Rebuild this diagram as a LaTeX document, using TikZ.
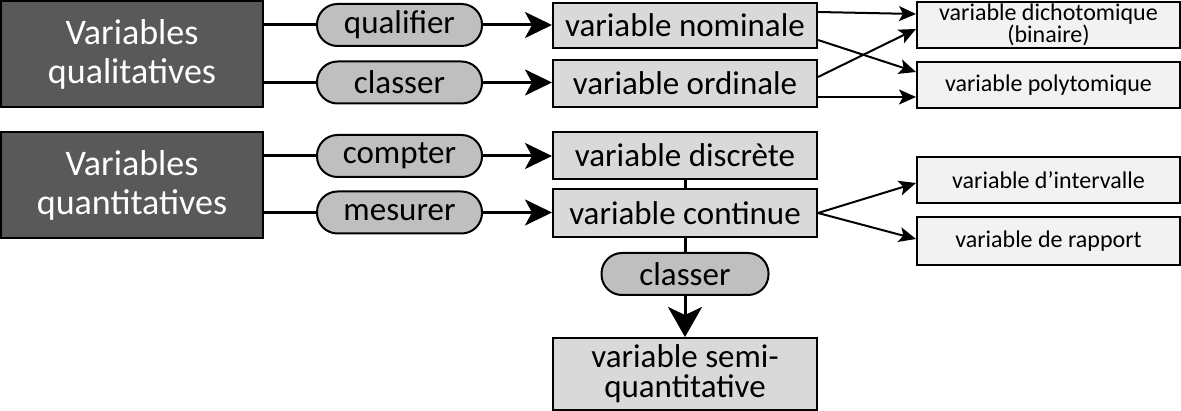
\documentclass[tikz,border=0pt]{standalone}
\usepackage{fontspec}
\setmainfont{Carlito}
\usetikzlibrary{arrows.meta}

\begin{document}
\begin{tikzpicture}[x=1pt,y=-1pt]
                \tikzstyle{every node}+=[inner sep=0pt, align=center]
                \tikzstyle{typebox}=[draw=black, line width=2pt, fill=black!65, text=white, minimum width=262pt, minimum height=106pt, font=\fontsize{36}{39}\selectfont]
                \tikzstyle{verb}=[draw=black, line width=2pt, fill=black!25, rounded corners=20.5pt, minimum width=165pt, minimum height=42pt, font=\fontsize{33}{36}\selectfont]
                \tikzstyle{varbox}=[draw=black, line width=2pt, fill=black!15, minimum width=264pt, minimum height=46pt, font=\fontsize{33}{30}\selectfont]
                \tikzstyle{subbox}=[draw=black, line width=2pt, fill=black!5, minimum width=263pt, minimum height=46pt, font=\fontsize{24}{22}\selectfont]
                \tikzstyle{link}=[line width=3pt]
                \tikzstyle{bigarrow}=[line width=3pt, -{Stealth[length=27pt,width=26pt,inset=7pt]}]
                \tikzstyle{smallarrow}=[line width=2pt, -{Stealth[length=17pt,width=15pt,inset=4pt]}]
                \useasboundingbox (0,0) rectangle (1181,411);
                \node [typebox] (qual) at (132,54) {Variables\\qualitatives};
                \node [typebox] (quant) at (132,185) {Variables\\quantitatives};
                \node [verb] (qualifier) at (399.5,25) {qualifier};
                \node [verb] (classer) at (399.5,82.5) {classer};
                \node [verb] (compter) at (399.5,156) {compter};
                \node [verb] (mesurer) at (399.5,212.5) {mesurer};
                \node [varbox, minimum height=45pt] (nominale) at (685,25.5) {variable nominale};
                \node [varbox, minimum height=47pt] (ordinale) at (685,83.5) {variable ordinale};
                \node [varbox, minimum height=47pt] (discrete) at (685,155.5) {variable discrète};
                \node [varbox, minimum height=48pt] (continue) at (685,213) {variable continue};
                \node [verb, minimum width=167pt] (classerbis) at (685,274) {classer};
                \node [varbox, minimum height=72pt] (semi) at (685,374) {variable semi-\\quantitative};
                \node [subbox] (dicho) at (1048.5,25) {variable dichotomique\\(binaire)};
                \node [subbox] (poly) at (1048.5,85) {variable polytomique};
                \node [subbox] (interv) at (1048.5,180) {variable d’intervalle};
                \node [subbox, minimum height=48pt] (rapport) at (1048.5,241) {variable de rapport};
                \draw [link] (qualifier.west -| qual.east) -- (qualifier.west);
                \draw [link] (classer.west -| qual.east) -- (classer.west);
                \draw [link] (compter.west -| quant.east) -- (compter.west);
                \draw [link] (mesurer.west -| quant.east) -- (mesurer.west);
                \draw [bigarrow] (qualifier.east) -- (qualifier.east -| nominale.west);
                \draw [bigarrow] (classer.east) -- (classer.east -| ordinale.west);
                \draw [bigarrow] (compter.east) -- (compter.east -| discrete.west);
                \draw [bigarrow] (mesurer.east) -- (mesurer.east -| continue.west);
                \draw [smallarrow] ([yshift=13.5pt]nominale.east) -- ([yshift=11pt]dicho.west);
                \draw [smallarrow] ([yshift=-14.5pt]nominale.east) -- ([yshift=13pt]poly.west);
                \draw [smallarrow] ([yshift=6.5pt]ordinale.east) -- ([yshift=-4pt]dicho.west);
                \draw [smallarrow] ([yshift=-13.5pt]ordinale.east) -- ([yshift=-12pt]poly.west);
                \draw [smallarrow] (continue.east) -- ([yshift=-3pt]interv.west);
                \draw [smallarrow] (continue.east) -- ([yshift=2pt]rapport.west);
                \draw [link] (discrete.south) -- (continue.north);
                \draw [link] (continue.south) -- (classerbis.north);
                \draw [bigarrow, -{Stealth[length=30pt,width=34pt,inset=8pt]}] (classerbis.south) -- (semi.north);
\end{tikzpicture}
\end{document}
